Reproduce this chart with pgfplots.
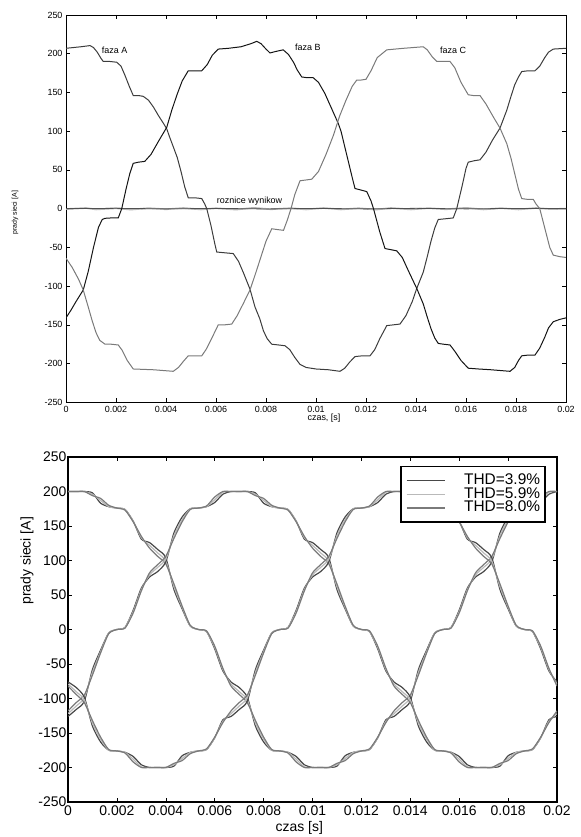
\documentclass[border=0pt]{standalone}
\usepackage{pgfplots}
\pgfplotsset{compat=1.18}
\usepackage{pgfplotstable}
\usepackage{fontspec}
\setmainfont{Liberation Sans}

\definecolor{fazaA}{HTML}{3C3C3C}
\definecolor{fazaB}{HTML}{141414}
\definecolor{fazaC}{HTML}{7A7A7A}
\definecolor{diffdark}{HTML}{505050}
\definecolor{difflight}{HTML}{B4B4B4}
\definecolor{thdA}{HTML}{474747}
\definecolor{thdB}{HTML}{B9B9B9}
\definecolor{thdC}{HTML}{7A7A7A}

% bottom chart: time in ms, phase currents for the three THD cases
% columns: a = THD 3.9%, b = THD 5.9%, c = THD 8.0%; 1,2,3 = phase
\pgfplotstableread{
t a1 b1 c1 a2 b2 c2 a3 b3 c3
0 200 200 200 -126 -122 -118 -76 -79 -82
0.333 200 200 200 -116 -111 -106 -84 -90 -94
0.667 200 200 200 -104 -99 -95 -98 -102 -106
1 198 196 194 -58 -62 -66 -140 -136 -132
1.333 183 187 190 -30 -32 -34 -163 -159 -156
1.667 178 178 180 -5 -5 -6 -175 -175 -174
2 176 176 176 0 0 0 -176 -176 -176
2.333 174 174 173 3 3 2 -178 -178 -179
2.667 157 157 156 28 26 24 -184 -188 -192
3 131 133 135 60 58 56 -196 -199 -200
3.333 126 122 118 76 79 82 -200 -200 -200
3.667 116 111 106 84 90 94 -200 -200 -200
4 104 99 95 98 102 106 -200 -200 -200
4.333 58 62 66 140 136 132 -198 -196 -194
4.667 30 32 34 163 159 156 -183 -187 -190
5 5 5 6 175 175 174 -178 -178 -180
5.333 0 0 0 176 176 176 -176 -176 -176
5.667 -3 -3 -2 178 178 179 -174 -174 -173
6 -28 -26 -24 184 188 192 -157 -157 -156
6.333 -60 -58 -56 196 199 200 -131 -133 -135
6.667 -76 -79 -82 200 200 200 -126 -122 -118
7 -84 -90 -94 200 200 200 -116 -111 -106
7.333 -98 -102 -106 200 200 200 -104 -99 -95
7.667 -140 -136 -132 198 196 194 -58 -62 -66
8 -163 -159 -156 183 187 190 -30 -32 -34
8.333 -175 -175 -174 178 178 180 -5 -5 -6
8.667 -176 -176 -176 176 176 176 0 0 0
9 -178 -178 -179 174 174 173 3 3 2
9.333 -184 -188 -192 157 157 156 28 26 24
9.667 -196 -199 -200 131 133 135 60 58 56
10 -200 -200 -200 126 122 118 76 79 82
10.333 -200 -200 -200 116 111 106 84 90 94
10.667 -200 -200 -200 104 99 95 98 102 106
11 -198 -196 -194 58 62 66 140 136 132
11.333 -183 -187 -190 30 32 34 163 159 156
11.667 -178 -178 -180 5 5 6 175 175 174
12 -176 -176 -176 0 0 0 176 176 176
12.333 -174 -174 -173 -3 -3 -2 178 178 179
12.667 -157 -157 -156 -28 -26 -24 184 188 192
13 -131 -133 -135 -60 -58 -56 196 199 200
13.333 -126 -122 -118 -76 -79 -82 200 200 200
13.667 -116 -111 -106 -84 -90 -94 200 200 200
14 -104 -99 -95 -98 -102 -106 200 200 200
14.333 -58 -62 -66 -140 -136 -132 198 196 194
14.667 -30 -32 -34 -163 -159 -156 183 187 190
15 -5 -5 -6 -175 -175 -174 178 178 180
15.333 0 0 0 -176 -176 -176 176 176 176
15.667 3 3 2 -178 -178 -179 174 174 173
16 28 26 24 -184 -188 -192 157 157 156
16.333 60 58 56 -196 -199 -200 131 133 135
16.667 76 79 82 -200 -200 -200 126 122 118
17 84 90 94 -200 -200 -200 116 111 106
17.333 98 102 106 -200 -200 -200 104 99 95
17.667 140 136 132 -198 -196 -194 58 62 66
18 163 159 156 -183 -187 -190 30 32 34
18.333 175 175 174 -178 -178 -180 5 5 6
18.667 176 176 176 -176 -176 -176 0 0 0
19 178 178 179 -174 -174 -173 -3 -3 -2
19.333 184 188 192 -157 -157 -156 -28 -26 -24
19.667 196 199 200 -131 -133 -135 -60 -58 -56
20 200 200 200 -126 -122 -118 -76 -79 -82
}\thdtable

\pgfplotsset{
  matlabbox/.style={
    scale only axis,
    xmin=0, xmax=20, ymin=-250, ymax=250,
    xtick={0,2,...,20},
    xticklabels={0,0.002,0.004,0.006,0.008,0.01,0.012,0.014,0.016,0.018,0.02},
    ytick={-250,-200,...,250},
    yticklabels={-250,-200,-150,-100,-50,0,50,100,150,200,250},
    tick align=inside, xtick pos=both, ytick pos=both,
    major tick length=4bp,
    tick style={black, line width=0.6bp},
  },
}

\begin{document}
\begin{tikzpicture}
\path[use as bounding box] (0,0) rectangle (581bp,837bp);

% ---------- top: three phases and the difference ----------
\begin{axis}[
  matlabbox,
  at={(66bp,434.7bp)}, anchor=south west,
  width=500bp, height=387.3bp,
  axis line style={line width=0.9bp},
  ticklabel style={font=\fontsize{9}{10}\selectfont},
  xlabel={czas, [s]},
  xlabel style={at={(axis description cs:0.516,-0.0405)}, anchor=center,
    font=\fontsize{9}{10}\selectfont},
  ylabel={prady sieci [A]},
  ylabel style={at={(axis description cs:-0.102,0.489)}, anchor=center,
    font=\fontsize{7}{8}\selectfont},
]
\addplot[difflight, line width=1.7bp] coordinates {
(0,-0.5)(0.8,0.8)(1.2,-1)(2,0.5)(2.6,-1.2)(3.3,0.6)(4,-0.8)(4.7,0.8)(5.4,-1)
(6,0.5)(6.8,-1.2)(7.5,1)(8.2,-0.8)(9,0.6)(9.6,-1)(10.3,0.8)(11,-1)(11.7,0.5)
(12.4,-1.2)(13,0.8)(13.8,-1)(14.5,0.6)(15.2,-0.8)(16,1)(16.7,-1)(17.4,0.6)
(18.1,-1)(18.8,0.8)(19.4,-0.6)(20,0)};
\addplot[diffdark, line width=0.8bp] coordinates {
(0,0)(2,0.4)(4,-0.3)(6,0.3)(8,-0.4)(10,0.3)(12,-0.3)(14,0.4)(16,-0.3)(18,0.3)(20,0)};

\addplot[fazaA, line width=1bp] coordinates {
(0,207)(0.3,208)(0.6,209)(0.96,210.5)(1.1,208)(1.25,202)(1.4,194)(1.49,190)
(1.75,190)(2.03,189)(2.2,184)(2.36,172)(2.53,158)(2.69,146)(2.9,146)(3.09,145)
(3.3,140)(3.5,131)(3.7,120)(3.9,110)(4.03,103)(4.15,92)(4.29,80)(4.45,66)
(4.6,48)(4.75,28)(4.89,14)(5.15,14)(5.43,13)(5.55,6)(5.63,0)(5.8,-22)(5.95,-45)
(6.03,-56)(6.35,-57)(6.69,-58)(6.9,-68)(7.1,-83)(7.36,-104)(7.56,-127)(7.75,-142)
(7.9,-158)(8.05,-168)(8.23,-175)(8.5,-176)(8.76,-177)(8.95,-182)(9.15,-192)
(9.36,-201)(9.6,-205)(10,-207)(10.5,-208)(10.96,-210)(11.15,-206)(11.35,-198)
(11.56,-191)(11.85,-190)(12.16,-190)(12.35,-182)(12.55,-168)(12.83,-151)
(13.1,-150)(13.36,-149)(13.6,-138)(13.85,-120)(14.03,-103)(14.29,-82)(14.45,-62)
(14.6,-42)(14.75,-25)(14.89,-14)(15.2,-13)(15.49,-12)(15.63,0)(15.85,30)(16,52)
(16.09,60)(16.35,62)(16.56,63)(16.8,73)(17.05,88)(17.36,104)(17.63,127)(17.8,145)
(17.95,160)(18.1,170)(18.23,177)(18.5,178)(18.76,178)(18.95,184)(19.15,195)
(19.3,202)(19.49,206)(20,207)};

\addplot[fazaB, line width=1bp] coordinates {
(0,-141)(0.2,-131)(0.4,-120)(0.69,-105)(0.89,-81)(1.1,-50)(1.3,-24)(1.45,-14)
(1.56,-12.5)(1.8,-12)(2.09,-12)(2.23,0)(2.4,25)(2.55,45)(2.69,58.5)(2.9,60)
(3.15,61)(3.4,70)(3.7,87)(4.03,105)(4.23,127)(4.45,148)(4.65,165)(4.89,178)
(5.15,178)(5.43,178)(5.65,186)(5.85,198)(6.09,206)(6.5,207)(7,209)(7.4,213)
(7.63,216)(7.8,213)(8,206)(8.16,201)(8.4,203)(8.69,205)(8.9,199)(9.1,189)
(9.25,179)(9.43,170)(9.65,169)(9.89,169)(10.1,163)(10.35,149)(10.6,131)
(10.89,110)(11,100)(11.15,80)(11.3,60)(11.45,40)(11.56,26)(11.8,24)(12.03,22)
(12.2,10)(12.3,0)(12.55,-30)(12.76,-51.5)(13,-53)(13.23,-54.5)(13.45,-63)
(13.75,-84)(14.03,-103)(14.29,-123)(14.45,-140)(14.6,-155)(14.75,-167)(14.89,-174)
(15.1,-175)(15.36,-176)(15.55,-184)(15.8,-196)(16.09,-206)(16.5,-207)(17,-208)
(17.76,-210)(17.95,-205)(18.1,-196)(18.23,-190)(18.5,-189)(18.76,-189)(18.95,-180)
(19.15,-166)(19.3,-154)(19.49,-146)(19.75,-143)(20,-141)};

\addplot[fazaC, line width=1bp] coordinates {
(0,-64)(0.25,-76)(0.5,-91)(0.69,-105)(0.89,-127)(1.05,-145)(1.2,-160)(1.35,-170)
(1.56,-175)(1.8,-175)(2.09,-176)(2.25,-183)(2.45,-196)(2.69,-207)(3.5,-208)
(4.29,-210)(4.5,-205)(4.7,-197)(4.89,-190)(5.15,-190)(5.43,-190)(5.6,-182)
(5.85,-166)(6.09,-150)(6.35,-150)(6.63,-149)(6.85,-138)(7.1,-122)(7.36,-105)
(7.6,-82)(7.8,-62)(8,-42)(8.23,-26)(8.45,-27)(8.7,-28)(8.85,-15)(9,0)(9.15,18)
(9.36,36)(9.6,37)(9.83,38)(10.1,48)(10.4,70)(10.7,95)(10.95,120)(11.2,140)
(11.45,158)(11.63,166)(11.8,166)(12,167)(12.2,178)(12.45,195)(12.83,205)
(13.5,207)(14.29,209)(14.45,205)(14.65,196)(14.83,190)(15.1,190)(15.36,190)
(15.55,182)(15.8,163)(16.09,147)(16.3,146)(16.56,146)(16.8,135)(17.1,118)
(17.36,104)(17.63,84)(17.8,65)(17.95,45)(18.1,25)(18.23,13)(18.45,12)(18.69,12)
(18.8,6)(18.95,0)(19.15,-25)(19.35,-50)(19.49,-60)(19.75,-62)(20,-63)};

\node[anchor=west, font=\fontsize{9}{10}\selectfont, inner sep=0pt] at (axis cs:1.43,204) {faza A};
\node[anchor=west, font=\fontsize{9}{10}\selectfont, inner sep=0pt] at (axis cs:9.16,208.5) {faza B};
\node[anchor=west, font=\fontsize{9}{10}\selectfont, inner sep=0pt] at (axis cs:14.96,205) {faza C};
\node[anchor=west, font=\fontsize{9}{10}\selectfont, inner sep=0pt] at (axis cs:6.03,9.7) {roznice wynikow};
\end{axis}

% ---------- bottom: currents for three THD values ----------
\begin{axis}[
  matlabbox,
  at={(68bp,35bp)}, anchor=south west,
  width=489bp, height=345bp,
  axis line style={line width=1.3bp},
  ticklabel style={font=\fontsize{14}{15}\selectfont},
  yticklabel style={inner xsep=1.5bp, inner ysep=0pt},
  xticklabel style={inner ysep=2pt, yshift=-2bp},
  xlabel={czas [s]},
  xlabel style={at={(axis description cs:0.473,-0.0754)}, anchor=center,
    font=\fontsize{14}{15}\selectfont},
  ylabel={prady sieci [A]},
  ylabel style={at={(axis description cs:-0.084,0.699)}, anchor=center,
    font=\fontsize{14}{15}\selectfont},
  legend cell align=right,
  legend image code/.code={\draw[#1] (0bp,0bp) -- (38bp,0bp);},
  legend style={at={(0.977,0.975)}, anchor=north east,
    draw=black, line width=1.3bp, fill=white,
    font=\fontsize{15.5}{15}\selectfont,
    inner xsep=5bp, inner ysep=7bp, column sep=19bp,
    nodes={inner ysep=0.4bp, inner xsep=0pt, text height=10.5bp, text depth=2.6bp}},
]
\addplot[thdA, line width=1.2bp, smooth, tension=0.4] table[x=t, y=a1] {\thdtable};
\addplot[thdB, line width=1.2bp, smooth, tension=0.4] table[x=t, y=b1] {\thdtable};
\addplot[thdC, line width=1.2bp, smooth, tension=0.4] table[x=t, y=c1] {\thdtable};
\addplot[thdA, line width=1.2bp, smooth, tension=0.4, forget plot] table[x=t, y=a2] {\thdtable};
\addplot[thdB, line width=1.2bp, smooth, tension=0.4, forget plot] table[x=t, y=b2] {\thdtable};
\addplot[thdC, line width=1.2bp, smooth, tension=0.4, forget plot] table[x=t, y=c2] {\thdtable};
\addplot[thdA, line width=1.2bp, smooth, tension=0.4, forget plot] table[x=t, y=a3] {\thdtable};
\addplot[thdB, line width=1.2bp, smooth, tension=0.4, forget plot] table[x=t, y=b3] {\thdtable};
\addplot[thdC, line width=1.2bp, smooth, tension=0.4, forget plot] table[x=t, y=c3] {\thdtable};
\legend{THD=3.9\%, THD=5.9\%, THD=8.0\%}
\end{axis}
\end{tikzpicture}
\end{document}
